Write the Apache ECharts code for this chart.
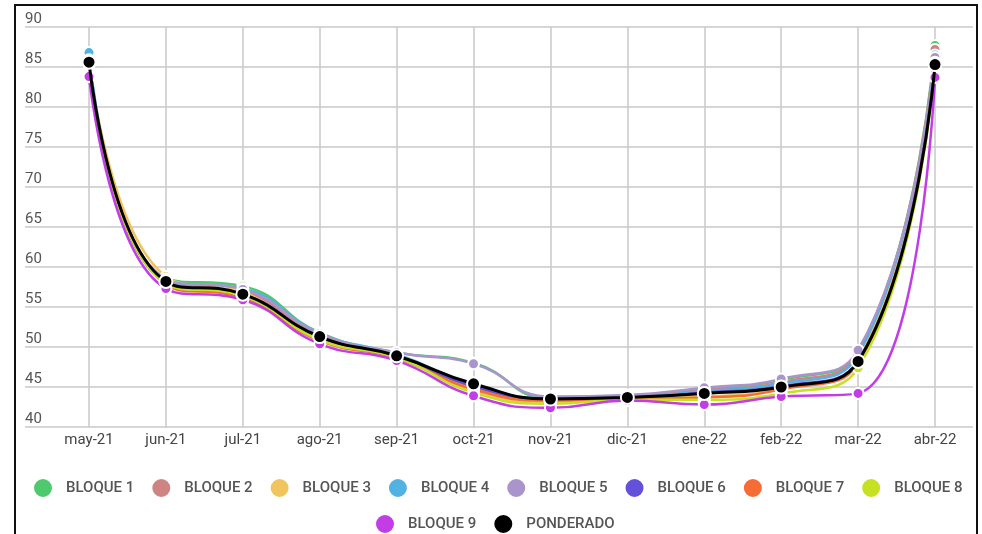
<!DOCTYPE html>
<html>
<head>
<meta charset="utf-8">
<script src="https://cdn.jsdelivr.net/npm/echarts@6/dist/echarts.min.js"></script>
<style>
  html, body { margin: 0; padding: 0; background: #fff; }
  #chart { width: 982px; height: 534px; }
</style>
</head>
<body>
<div id="chart"></div>
<script>
// Monthly categories
const months = ['may-21', 'jun-21', 'jul-21', 'ago-21', 'sep-21', 'oct-21', 'nov-21', 'dic-21', 'ene-22', 'feb-22', 'mar-22', 'abr-22'];

// Y-axis range and step
const yMin = 40;
const yMax = 90;
const yStep = 5;

// Values per block
const bloque1 = [86.0, 58.6, 57.6, 51.8, 49.3, 48.0, 43.6, 43.9, 44.8, 45.9, 49.4, 87.7];
const bloque2 = [85.8, 58.4, 57.0, 51.4, 49.0, 45.0, 43.6, 43.8, 44.6, 45.6, 49.2, 87.2];
const bloque3 = [85.7, 58.8, 56.9, 51.0, 48.8, 44.5, 43.1, 43.5, 43.8, 44.8, 48.4, 85.9];
const bloque4 = [86.8, 58.3, 57.3, 51.7, 49.1, 45.3, 43.6, 43.7, 44.5, 45.4, 49.0, 86.5];
const bloque5 = [85.9, 58.5, 57.2, 51.7, 49.3, 47.9, 43.8, 44.0, 44.9, 46.0, 49.6, 86.2];
const bloque6 = [85.6, 58.0, 56.6, 51.2, 48.8, 45.1, 43.5, 43.6, 44.3, 45.1, 48.3, 85.6];
const bloque7 = [85.4, 57.8, 56.1, 50.8, 48.6, 44.7, 43.3, 43.5, 43.7, 44.7, 48.0, 85.4];
const bloque8 = [85.3, 57.9, 56.4, 50.9, 48.7, 44.3, 42.9, 43.4, 43.4, 44.2, 47.4, 85.1];
const bloque9 = [83.8, 57.3, 55.9, 50.4, 48.3, 43.9, 42.4, 43.3, 42.8, 43.8, 44.2, 83.7];
const ponderado = [85.6, 58.2, 56.6, 51.3, 48.9, 45.4, 43.5, 43.7, 44.2, 45.0, 48.2, 85.3];

const seriesNames = ['BLOQUE 1', 'BLOQUE 2', 'BLOQUE 3', 'BLOQUE 4', 'BLOQUE 5', 'BLOQUE 6', 'BLOQUE 7', 'BLOQUE 8', 'BLOQUE 9', 'PONDERADO'];
const seriesData = [bloque1, bloque2, bloque3, bloque4, bloque5, bloque6, bloque7, bloque8, bloque9, ponderado];
const seriesColors = ['#4fc96e', '#cf8484', '#f0c55e', '#52b2e2', '#a994cc', '#6451d9', '#f76b34', '#c6e022', '#c23de6', '#000000'];

const chart = echarts.init(document.getElementById('chart'), null, { renderer: 'canvas' });

const textFont = 'Roboto, "Noto Sans", sans-serif';

const series = seriesNames.map((name, i) => {
  const isTotal = name === 'PONDERADO';
  return {
    name: name,
    type: 'line',
    xAxisIndex: 1,
    yAxisIndex: 1,
    data: seriesData[i],
    smooth: 0.5,
    symbol: 'circle',
    symbolSize: isTotal ? 13 : 11,
    showSymbol: true,
    z: 10 + i,
    itemStyle: { color: seriesColors[i], borderColor: '#ffffff', borderWidth: 2 },
    lineStyle: { color: seriesColors[i], width: isTotal ? 3 : 2.5 },
    emphasis: { disabled: true }
  };
});

// Shared legend look; the legend is split in two centred rows
const legendBase = {
  icon: 'circle',
  itemWidth: 20,
  itemHeight: 20,
  itemGap: 16,
  orient: 'horizontal',
  textStyle: {
    color: '#555555', fontSize: 15, fontWeight: 500, fontFamily: textFont,
    padding: [0, 0, 0, 8]
  }
};

const option = {
  backgroundColor: '#ffffff',
  animation: false,
  textStyle: { fontFamily: textFont },
  graphic: [{
    type: 'rect',
    shape: { x: 15, y: 5, width: 962, height: 560 },
    style: { fill: 'none', stroke: '#111111', lineWidth: 2 },
    silent: true,
    z: 100
  }],
  legend: [
    Object.assign({}, legendBase, { data: seriesNames.slice(0, 8), left: 27, top: 472 }),
    Object.assign({}, legendBase, { data: seriesNames.slice(8), left: 369, top: 508 })
  ],
  grid: [
    { left: 25, right: 9, top: 27, bottom: 107 },
    { left: 89, right: 47, top: 27, bottom: 107 }
  ],
  xAxis: [
    {
      gridIndex: 0, type: 'category', data: months, show: false
    },
    {
      gridIndex: 1,
      type: 'category',
      data: months,
      boundaryGap: false,
      axisLine: { show: false },
      axisTick: { show: false },
      axisLabel: { color: '#444444', fontSize: 15, margin: 6, fontFamily: textFont },
      splitLine: { show: true, lineStyle: { color: '#c8c8c8', width: 1.5 } }
    }
  ],
  yAxis: [
    {
      gridIndex: 0,
      type: 'value',
      min: yMin, max: yMax, interval: yStep,
      axisLine: { show: false },
      axisTick: { show: false },
      axisLabel: {
        inside: true, margin: 0, color: '#555555', fontSize: 15,
        verticalAlign: 'bottom', padding: [0, 0, 0, 0], fontFamily: textFont
      },
      splitLine: { show: true, lineStyle: { color: '#c8c8c8', width: 1.5 } }
    },
    {
      gridIndex: 1,
      type: 'value',
      min: yMin, max: yMax, interval: yStep,
      show: false
    }
  ],
  series: series
};

chart.setOption(option);
</script>
</body>
</html>
